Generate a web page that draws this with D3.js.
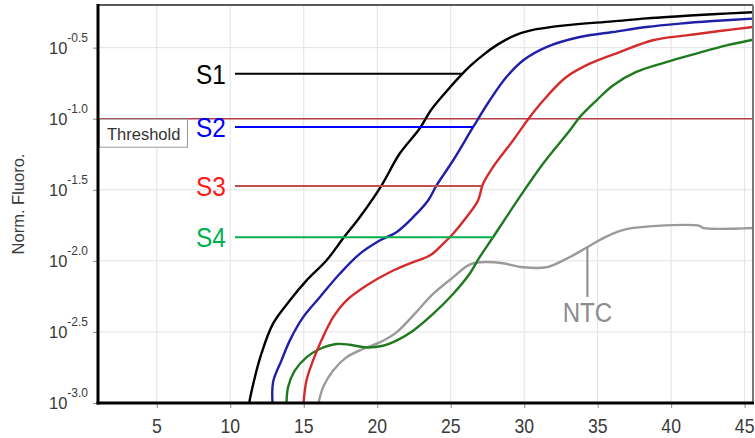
<!DOCTYPE html>
<html>
<head>
<meta charset="utf-8">
<script src="https://cdn.jsdelivr.net/npm/d3@7"></script>
<style>
  body { margin: 0; background: #fff; }
  svg { display: block; font-family: "Liberation Sans", Arial, sans-serif; }
</style>
</head>
<body>
<svg id="chart" width="755" height="438"></svg>
<script>
// ---------------- DATA ----------------
const xTicks = [5, 10, 15, 20, 25, 30, 35, 40, 45];
const yTickExponents = [-3.0, -2.5, -2.0, -1.5, -1.0, -0.5];
const yTickLabels = ["-3.0", "-2.5", "-2.0", "-1.5", "-1.0", "-0.5"];
const yTitle = "Norm. Fluoro.";
const thresholdExp = -1.0;
const thresholdLabel = "Threshold";

// values are log10 of the normalised fluorescence, read per cycle
const s1Cycle = [11.28, 11.28, 11.67, 12.12, 12.91, 14.05, 15.18, 16.54, 17.67, 18.81, 20.29, 21.53, 22.89, 23.64, 24.53, 25.69, 26.37, 27.26, 28.21, 29.37, 30.45, 32.77, 36.02, 38.33, 40.57, 42.82, 45.54];
const s1Exp   = [-3.05, -3.01, -2.820, -2.653, -2.442, -2.279, -2.139, -1.998, -1.843, -1.693, -1.470, -1.245, -1.069, -0.942, -0.829, -0.695, -0.625, -0.547, -0.477, -0.413, -0.378, -0.343, -0.315, -0.294, -0.279, -0.265, -0.251];

const s2Cycle = [12.91, 12.91, 13.48, 14.05, 14.95, 16.09, 17.45, 18.81, 20.17, 21.31, 22.44, 23.46, 24.03, 25.16, 26.52, 27.65, 28.79, 29.92, 31.51, 33.78, 36.04, 38.31, 40.58, 42.84, 45.56];
const s2Exp   = [-3.05, -2.855, -2.702, -2.561, -2.398, -2.256, -2.091, -1.951, -1.857, -1.798, -1.693, -1.575, -1.470, -1.294, -1.060, -0.872, -0.707, -0.590, -0.496, -0.425, -0.390, -0.355, -0.331, -0.313, -0.296];

const s3Cycle = [14.95, 15.18, 15.63, 16.20, 16.99, 17.90, 19.27, 20.85, 22.44, 23.57, 24.48, 25.16, 26.07, 26.86, 27.20, 27.88, 29.24, 30.37, 31.51, 32.87, 34.46, 36.50, 38.76, 41.03, 43.30, 45.56];
const s3Exp   = [-3.05, -2.843, -2.702, -2.561, -2.398, -2.279, -2.174, -2.080, -2.009, -1.963, -1.880, -1.809, -1.693, -1.575, -1.458, -1.340, -1.153, -0.989, -0.847, -0.707, -0.613, -0.531, -0.448, -0.414, -0.383, -0.355];

const s4Cycle = [13.82, 13.93, 14.39, 15.18, 16.09, 17.22, 18.13, 19.27, 20.39, 21.31, 22.44, 23.80, 25.16, 26.29, 26.97, 27.88, 29.69, 31.28, 33.10, 33.78, 34.91, 36.04, 37.63, 39.67, 41.71, 43.76, 45.56];
const s4Exp   = [-3.05, -2.890, -2.773, -2.679, -2.620, -2.585, -2.590, -2.609, -2.597, -2.561, -2.491, -2.373, -2.233, -2.091, -1.974, -1.834, -1.552, -1.317, -1.083, -0.989, -0.872, -0.766, -0.671, -0.602, -0.542, -0.484, -0.444];

const ntcCycle = [15.90, 16.31, 16.99, 17.90, 19.03, 20.17, 21.31, 22.44, 23.80, 25.16, 26.29, 27.43, 28.56, 29.92, 31.51, 32.87, 34.23, 35.59, 36.95, 39.0, 41.94, 42.17, 45.7];
const ntcExp   = [-3.05, -2.890, -2.773, -2.679, -2.620, -2.574, -2.503, -2.385, -2.233, -2.116, -2.026, -2.008, -2.017, -2.045, -2.045, -1.986, -1.908, -1.829, -1.777, -1.754, -1.754, -1.768, -1.768];

const labelNames  = ["S1", "S2", "S3", "S4"];
const labelLevels = [-0.683, -1.059, -1.473, -1.834];   // log10 level where each label's leader line meets its curve
const ntcName = "NTC";
const ntcPointCycle = 34.3;

// ---------------- LAYOUT / STYLE ----------------
const curveColors = ["#000000", "#1f1fa8", "#d42a2a", "#1f7a1f", "#9a9a9a"];
const labelTextColors = ["#000000", "#0000ff", "#ff1a1a", "#00b050"];
const leaderColors = ["#000000", "#0000ff", "#c0504d", "#00b050"];

const svg = d3.select("#chart");
const P = { left: 98, right: 753, top: 5, bottom: 403 };

const x = d3.scaleLinear().domain([1, 45.57]).range([P.left, P.right]);
const y = d3.scaleLog().domain([1e-3, Math.pow(10, -0.2)]).range([P.bottom, P.top]);
const yE = e => y(Math.pow(10, e));

svg.append("defs").append("clipPath").attr("id", "clip")
  .append("rect").attr("x", P.left).attr("y", P.top)
  .attr("width", P.right - P.left).attr("height", P.bottom - P.top);

// grid
const grid = svg.append("g");
grid.selectAll("line.v").data(xTicks).join("line")
  .attr("x1", d => x(d)).attr("x2", d => x(d))
  .attr("y1", P.top).attr("y2", P.bottom)
  .attr("stroke", "#e2e2e2").attr("stroke-width", 1);
grid.selectAll("line.h").data(yTickExponents.filter(e => e > -3)).join("line")
  .attr("x1", P.left).attr("x2", P.right)
  .attr("y1", d => yE(d)).attr("y2", d => yE(d))
  .attr("stroke", "#e2e2e2").attr("stroke-width", 1);

// axes via d3 axis generators (ticks only, labels drawn custom)
const xAxis = d3.axisBottom(x).tickValues(xTicks).tickSize(5).tickFormat("");
const gx = svg.append("g").attr("transform", `translate(0,${P.bottom})`).call(xAxis);
gx.select(".domain").remove();
gx.selectAll(".tick line").attr("stroke", "#8a8a8a");

const yAxis = d3.axisLeft(y).tickValues(yTickExponents.map(e => Math.pow(10, e))).tickSize(5).tickFormat("");
const gy = svg.append("g").attr("transform", `translate(${P.left},0)`).call(yAxis);
gy.select(".domain").remove();
gy.selectAll(".tick line").attr("stroke", "#8a8a8a");

// x tick labels
svg.append("g").selectAll("text").data(xTicks).join("text")
  .attr("transform", d => `translate(${x(d)},433) scale(0.88,1)`)
  .attr("text-anchor", "middle")
  .attr("font-size", 20).attr("fill", "#3a3a3a")
  .text(d => d);

// y tick labels 10^e
const yl = svg.append("g").selectAll("text").data(yTickExponents).join("text")
  .attr("x", 88).attr("y", d => yE(d) + 6)
  .attr("text-anchor", "end")
  .attr("font-size", 16.5).attr("fill", "#3a3a3a");
yl.append("tspan").text("10");
yl.append("tspan").attr("dy", -12).attr("font-size", 12).text((d, i) => yTickLabels[i]);

// y title
svg.append("text")
  .attr("transform", `translate(24,204) rotate(-90)`)
  .attr("text-anchor", "middle")
  .attr("font-size", 16.5).attr("fill", "#3a3a3a")
  .text(yTitle);

// threshold line
svg.append("line")
  .attr("x1", P.left).attr("x2", P.right)
  .attr("y1", yE(thresholdExp)).attr("y2", yE(thresholdExp))
  .attr("stroke", "#b3404c").attr("stroke-width", 1.5);

// curves
const series = [
  { c: s1Cycle, e: s1Exp }, { c: s2Cycle, e: s2Exp }, { c: s3Cycle, e: s3Exp },
  { c: s4Cycle, e: s4Exp }, { c: ntcCycle, e: ntcExp }
].map((s, i) => ({ pts: s.c.map((cv, k) => [cv, s.e[k]]), color: curveColors[i] }));

const line = d3.line().x(d => x(d[0])).y(d => yE(d[1])).curve(d3.curveCatmullRom.alpha(0.5));
const curvesG = svg.append("g").attr("clip-path", "url(#clip)");
[4, 3, 2, 1, 0].forEach(i => {
  curvesG.append("path").attr("d", line(series[i].pts))
    .attr("fill", "none").attr("stroke", series[i].color)
    .attr("stroke-width", 2.4).attr("stroke-linejoin", "round");
});

// helper: cycle at which a series first reaches a level
function cycleAtLevel(pts, lvl) {
  for (let k = 1; k < pts.length; k++) {
    const a = pts[k - 1], b = pts[k];
    if ((a[1] - lvl) * (b[1] - lvl) <= 0 && a[1] !== b[1]) {
      return a[0] + (lvl - a[1]) / (b[1] - a[1]) * (b[0] - a[0]);
    }
  }
  return pts[pts.length - 1][0];
}
function levelAtCycle(pts, cyc) {
  for (let k = 1; k < pts.length; k++) {
    const a = pts[k - 1], b = pts[k];
    if (cyc >= a[0] && cyc <= b[0] && b[0] !== a[0]) {
      return a[1] + (cyc - a[0]) / (b[0] - a[0]) * (b[1] - a[1]);
    }
  }
  return pts[pts.length - 1][1];
}

// series labels with leader lines
labelNames.forEach((name, i) => {
  const ly = yE(labelLevels[i]);
  const endX = x(cycleAtLevel(series[i].pts, labelLevels[i]));
  svg.append("line").attr("x1", 235).attr("x2", endX).attr("y1", ly).attr("y2", ly)
    .attr("stroke", leaderColors[i]).attr("stroke-width", 2);
  svg.append("text")
    .attr("transform", `translate(196,${ly + 10}) scale(0.87,1)`)
    .attr("font-size", 28).attr("fill", labelTextColors[i])
    .text(name);
});

// NTC label
const ntcTopY = yE(levelAtCycle(series[4].pts, ntcPointCycle));
svg.append("line").attr("x1", x(ntcPointCycle)).attr("x2", x(ntcPointCycle))
  .attr("y1", ntcTopY).attr("y2", 297)
  .attr("stroke", "#8c8c8c").attr("stroke-width", 2);
svg.append("text")
  .attr("transform", `translate(${x(ntcPointCycle)},322) scale(0.86,1)`)
  .attr("text-anchor", "middle")
  .attr("font-size", 28).attr("fill", "#8c8c8c")
  .text(ntcName);

// threshold label box
const thY = yE(thresholdExp);
svg.append("rect").attr("x", P.left + 1.5).attr("y", thY + 0.5)
  .attr("width", 88).attr("height", 28)
  .attr("fill", "#ffffff").attr("stroke", "#9a9a9a").attr("stroke-width", 1);
svg.append("text").attr("x", 107).attr("y", thY + 21)
  .attr("font-size", 16.5).attr("fill", "#333333")
  .text(thresholdLabel);

// frame
svg.append("line").attr("x1", P.left).attr("x2", P.right).attr("y1", P.top).attr("y2", P.top)
  .attr("stroke", "#5a5a5a").attr("stroke-width", 2);
svg.append("line").attr("x1", P.right).attr("x2", P.right).attr("y1", P.top).attr("y2", P.bottom)
  .attr("stroke", "#7a7a7a").attr("stroke-width", 2);
svg.append("line").attr("x1", P.left).attr("x2", P.left).attr("y1", P.top - 1).attr("y2", P.bottom + 1.5)
  .attr("stroke", "#000").attr("stroke-width", 3);
svg.append("line").attr("x1", P.left - 1.5).attr("x2", P.right + 1).attr("y1", P.bottom).attr("y2", P.bottom)
  .attr("stroke", "#000").attr("stroke-width", 3);
</script>
</body>
</html>
